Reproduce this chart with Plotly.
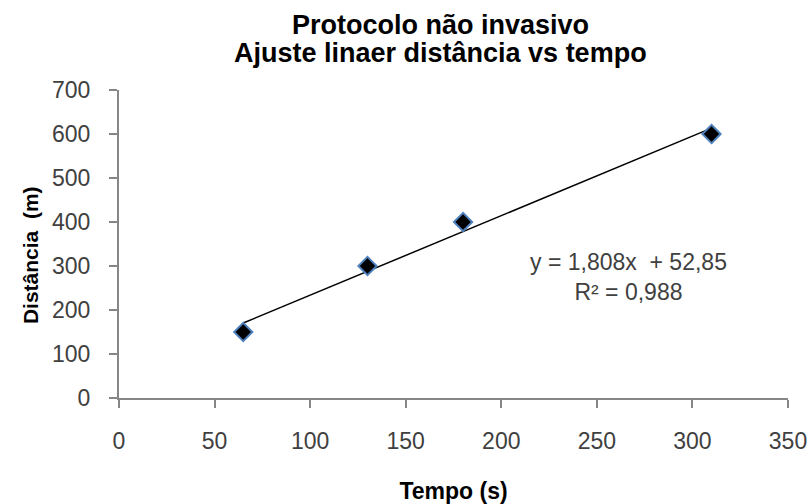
import plotly.graph_objects as go

tempo = [65, 130, 180, 310]
distancia = [150, 300, 400, 600]
slope = 1.808
intercept = 52.85
eq_text = "y = 1,808x  + 52,85<br>R² = 0,988"
title_line1 = "<b>Protocolo não invasivo</b>"
title_line2 = "<b>Ajuste linaer distância vs tempo</b>"
y_title = "<b>Distância  (m)</b>"
x_title = "<b>Tempo (s)</b>"

fit_x = [min(tempo), max(tempo)]
fit_y = [slope * v + intercept for v in fit_x]

SANS = "Liberation Sans, Arial, sans-serif"

fig = go.Figure()
fig.add_trace(go.Scatter(x=fit_x, y=fit_y, mode="lines",
                         line=dict(color="black", width=1.5), showlegend=False))
fig.add_trace(go.Scatter(x=tempo, y=distancia, mode="markers",
                         marker=dict(symbol="diamond", size=14, color="black",
                                     line=dict(color="#4F81BD", width=2)),
                         showlegend=False))

axis_common = dict(showgrid=False, zeroline=False, automargin=False,
                   showline=True, linecolor="#868686", linewidth=2,
                   ticks="outside", ticklen=8, tickcolor="#868686", tickwidth=2,
                   tickfont=dict(size=23, family=SANS, color="#404040"))

fig.update_layout(
    width=811, height=504,
    margin=dict(l=119, r=23, t=90, b=106),
    paper_bgcolor="white", plot_bgcolor="white",
    font=dict(family=SANS, color="#404040"),
    xaxis=dict(range=[0, 350], dtick=50, ticklabelstandoff=13,
               title=dict(text=x_title, font=dict(size=23, family=SANS, color="black"),
                          standoff=31),
               **axis_common),
    yaxis=dict(range=[0, 700], dtick=100, ticklabelstandoff=14,
               **axis_common),
    annotations=[
        dict(text=title_line1, x=0.48, y=1.21, xref="paper", yref="paper",
             xanchor="center", yanchor="middle", showarrow=False,
             font=dict(size=27, family=SANS, color="black")),
        dict(text=title_line2, x=0.48, y=1.12, xref="paper", yref="paper",
             xanchor="center", yanchor="middle", showarrow=False,
             font=dict(size=27, family=SANS, color="black")),
        dict(text=y_title, x=-0.133, y=0.464, xref="paper", yref="paper",
             xanchor="center", yanchor="middle", showarrow=False, textangle=-90,
             font=dict(size=21, family=SANS, color="black")),
        dict(text=eq_text, x=0.762, y=0.393, xref="paper", yref="paper",
             xanchor="center", yanchor="middle", showarrow=False, align="center",
             font=dict(size=23, family=SANS, color="#404040")),
    ],
)

fig.write_html("out.html")
